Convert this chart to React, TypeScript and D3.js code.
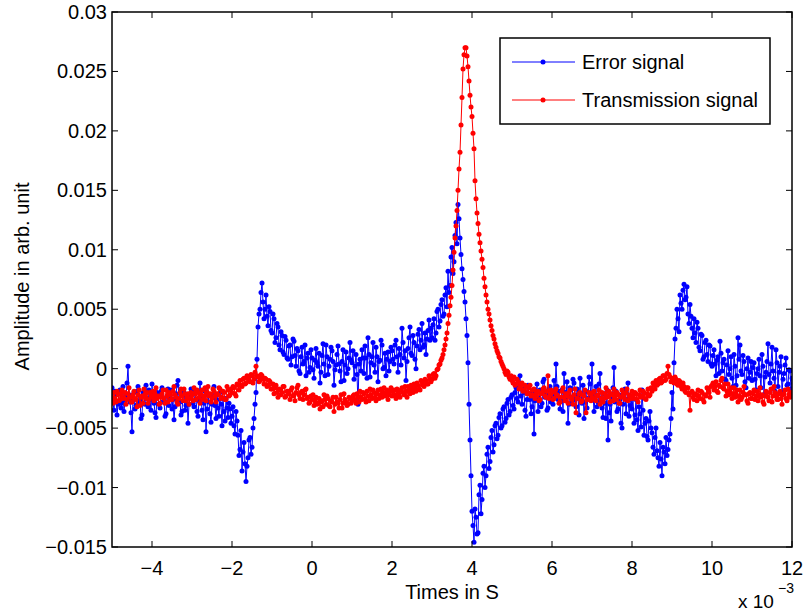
import React from "react";
import * as d3 from "d3";

// Sampling grid (axis shown in units of 1e-3 s)
const T_START = -5;
const T_STEP = 0.025;

// Error signal values (x 1e-3 arb. unit), 40 samples per 1e-3 s
const errorSignal: number[] = [
  -1.6, -2.8, -3.5, -1.9, -2.2, -3.9, -3.0, -2.1, -1.8, -3.3, -2.9, -1.5, -3.6, -2.6, -2.4, -1.2, 0.2, -2.2, -2.8, -3.7, -5.3, -2.5, -2.0, -3.4, -3.1, -1.9, -1.5, -2.9, -2.7, -4.2, -3.9, -2.0, -2.3, -3.0, -1.4, -2.5, -3.2, -1.8, -2.6, -3.5,
  -1.3, -2.4, -2.9, -3.7, -4.1, -2.0, -2.2, -3.0, -3.3, -1.9, -1.6, -2.8, -2.7, -4.0, -3.8, -2.3, -1.7, -3.1, -2.5, -1.8, -3.4, -2.6, -4.3, -3.2, -2.1, -1.4, -1.0, -2.7, -2.8, -3.9, -3.6, -2.2, -2.0, -3.5, -3.1, -2.4, -4.6, -3.0, -2.4, -1.7,
  -1.8, -2.9, -3.2, -2.1, -2.6, -3.6, -4.0, -2.7, -1.2, -2.4, -3.5, -4.3, -2.9, -1.9, -5.3, -3.4, -2.2, -2.8, -3.8, -4.5, -3.0, -2.3, -1.5, -3.1, -4.2, -2.6, -3.3, -4.0, -2.0, -3.0, -4.8, -2.5, -3.6, -4.4, -2.5, -3.3, -4.1, -2.9, -3.4, -4.6,
  -4.0, -3.2, -4.8, -5.5, -3.6, -4.4, -5.6, -7.3, -6.8, -5.2, -8.6, -7.0, -6.2, -8.0, -9.5, -8.2, -7.5, -6.0, -5.8, -7.2, -6.6, -5.0, -4.2, -3.0, -2.0, 0.8, 3.5, 4.6, 5.0, 6.4, 7.2, 5.6, 4.2, 5.0, 6.2, 4.4, 3.6, 5.2, 4.8, 3.2,
  3.0, 4.6, 4.2, 2.2, 2.6, 3.8, 3.5, 2.0, 1.6, 3.1, 2.8, 1.4, 1.2, 2.7, 2.4, 0.9, 0.8, 1.9, 2.0, 0.3, 1.0, 2.5, 2.3, 1.1, 0.2, 1.7, 1.5, -0.2, -0.4, 1.0, 1.8, 0.4, 0.6, 2.0, -0.6, 0.9, 1.3, -0.3, 0.1, 1.6,
  0.9, -0.1, -0.8, 0.7, 1.7, 0.5, 0.2, 1.3, -1.2, -0.3, 1.1, 2.1, 0.4, -0.6, 2.0, 1.0, -0.5, 0.2, 0.8, 1.8, 1.5, 0.6, -1.4, -0.1, 0.3, 1.2, 1.9, 0.4, -0.2, -1.1, 0.6, 1.6, -1.0, 0.3, 1.4, -0.4, 0.0, 0.9, 2.2, 0.7,
  0.5, 1.5, -0.9, 0.2, 1.2, -0.5, -3.0, 0.4, 0.8, -0.2, 1.6, 0.9, -0.4, 1.9, 0.9, -0.8, 2.6, 1.2, -0.7, 0.5, 1.0, 2.2, 0.3, -0.3, 1.8, 1.0, -1.1, 0.6, 0.7, 2.4, 2.0, 0.0, 0.1, 1.3, -0.6, 0.8, 1.4, -0.2, 0.6, 1.8,
  1.5, 0.8, 0.4, 2.0, 2.4, 1.0, -0.3, 1.7, 1.2, 0.3, 3.4, 2.2, 0.9, 1.5, -1.0, 0.6, 1.7, 2.6, 3.5, 1.3, 1.1, 2.8, 2.2, 0.8, 0.0, 1.9, 2.9, 3.3, 1.6, 2.4, 3.8, 1.8, 2.0, 3.0, 1.2, 2.5, 3.2, 4.1, 2.4, 3.4,
  2.6, 3.7, 4.2, 2.4, 3.0, 4.8, 5.0, 3.5, 4.0, 5.4, 5.8, 4.4, 4.6, 6.2, 6.8, 5.2, 8.2, 6.4, 7.0, 9.4, 10.2, 8.0, 9.0, 11.2, 12.3, 10.5, 13.8, 12.6, 11.0, 9.6, 8.4, 7.5, 6.5, 5.6, 4.2, 2.8, 0.5, -3.0, -6.0, -9.0,
  -12.0, -13.2, -14.6, -11.8, -12.5, -13.9, -13.8, -10.6, -9.8, -12.2, -11.0, -8.8, -8.2, -10.0, -9.0, -7.2, -6.6, -8.4, -7.8, -5.8, -5.2, -7.0, -6.4, -4.8, -4.6, -5.9, -5.6, -4.1, -3.8, -5.0, -4.8, -3.4, -3.2, -4.5, -4.2, -2.9, -2.6, -3.9, -3.6, -2.4,
  -2.2, -3.1, -3.4, -2.0, -1.6, -2.5, -2.8, -1.2, -0.6, -2.3, -3.0, -1.7, -2.0, -3.5, -4.0, -2.6, -1.4, -2.1, -2.6, -3.8, -3.2, -1.9, -5.5, -2.7, -2.4, -1.3, -3.6, -2.5, -1.8, -3.2, -2.9, -1.1, -0.9, -2.4, -2.2, -3.5, -3.3, -1.7, -1.5, -2.8,
  -2.0, -3.0, -1.0, -2.2, 0.4, -1.5, -2.6, -1.9, -3.4, -2.7, -1.8, -3.6, -0.4, -2.0, -2.4, -1.1, -4.6, -3.0, -1.6, -2.4, -2.8, -0.9, -1.2, -2.6, -3.2, -1.7, -2.2, -3.9, -0.8, -2.1, -2.9, -1.4, -4.2, -2.8, -1.9, -3.3, -2.5, -0.7, -1.3, -2.3,
  0.4, -2.0, -3.6, -2.4, -1.5, -3.2, -2.8, -1.3, -0.4, -2.5, -3.3, -4.1, -2.1, -2.9, -4.2, -1.8, -6.0, -3.7, -3.0, -4.4, -2.5, -1.6, 0.1, -2.8, -1.9, -3.6, -3.4, -2.2, -2.6, -4.6, -5.0, -3.0, -2.2, -1.7, -3.8, -2.6, -1.2, -4.0, -3.1, -2.3,
  -3.4, -2.5, -4.6, -3.9, -2.6, -4.3, -5.2, -3.2, -3.8, -4.9, -1.8, -3.5, -5.6, -4.6, -4.2, -5.7, -6.0, -4.4, -3.6, -5.0, -5.4, -6.6, -7.2, -5.8, -5.0, -6.9, -7.5, -8.2, -6.2, -7.6, -9.0, -6.6, -7.0, -8.0, -5.8, -7.3, -6.8, -6.0, -5.5, -4.2,
  -2.0, -3.4, 0.5, 2.5, 3.4, 5.0, 4.2, 3.1, 6.2, 5.5, 5.0, 6.6, 7.1, 5.8, 6.0, 6.9, 4.6, 3.8, 5.4, 4.4, 3.4, 2.6, 4.2, 3.0, 2.2, 3.9, 3.4, 1.8, 1.5, 2.9, 2.8, 0.8, 1.0, 2.2, 2.4, 1.2, 0.6, 2.0, 1.9, 0.4,
  0.2, 1.1, 1.6, 0.4, -0.6, 0.7, 1.0, -0.4, 2.3, 1.3, -0.2, 0.5, 0.8, -0.9, -1.0, 0.3, 1.5, -0.5, 0.0, 1.0, -0.8, -1.5, 1.2, 0.2, -1.4, -0.6, 2.6, 0.8, 2.0, -0.2, -0.5, 1.1, 0.6, -1.1, -1.6, 0.0, 0.9, -0.8, -0.3, 0.6,
  -1.0, 0.1, 0.5, -0.9, -1.8, -0.4, 0.0, 0.8, -0.6, -1.6, 1.2, 0.2, -2.2, -0.7, -0.3, 0.6, 2.1, -0.5, -1.2, 0.4, 1.8, -0.2, -0.8, -1.9, 1.6, 0.5, -1.5, -0.3, 0.2, 1.0, -2.0, -0.9, -0.4, 0.3, 0.9, -1.4, -1.3, -0.1, -0.2, -1.7,
  -0.8,
];

// Transmission signal values (x 1e-3 arb. unit), 40 samples per 1e-3 s
const transmissionSignal: number[] = [
  -2.4, -2.9, -2.0, -2.5, -2.8, -1.9, -2.2, -2.7, -2.6, -2.1, -1.8, -2.4, -2.5, -2.0, -3.0, -2.6, -2.1, -1.6, -2.4, -2.8, -2.8, -2.2, -1.9, -2.5, -2.6, -3.2, -2.2, -1.8, -3.1, -2.4, -2.3, -2.9, -1.7, -2.2, -2.5, -2.0, -2.9, -2.6, -2.0, -2.3,
  -2.4, -1.9, -2.7, -2.2, -1.6, -2.5, -2.3, -3.0, -2.9, -2.4, -2.1, -1.8, -2.5, -2.9, -1.8, -2.3, -2.8, -2.0, -2.2, -2.6, -2.6, -1.9, -1.5, -2.2, -2.4, -2.8, -3.0, -2.5, -2.0, -1.7, -2.3, -2.7, -1.7, -2.1, -2.7, -2.4, -2.1, -3.0, -2.5, -2.0,
  -2.2, -2.7, -1.6, -2.1, -2.6, -1.8, -2.0, -2.4, -2.9, -2.2, -1.8, -2.6, -2.3, -1.6, -2.7, -2.0, -1.5, -2.3, -2.1, -2.8, -2.5, -1.7, -1.9, -2.3, -2.8, -2.1, -2.2, -1.6, -1.7, -2.5, -2.4, -1.9, -2.0, -2.6, -2.6, -1.5, -1.8, -2.3, -2.2, -1.7,
  -2.0, -1.5, -1.6, -2.1, -2.3, -1.3, -1.4, -1.8, -1.0, -1.4, -1.5, -0.9, -0.8, -1.3, -1.2, -0.6, -0.7, -1.0, -1.1, -0.5, -0.6, -1.2, -0.9, -0.3, 0.2, -0.6, -0.7, -1.1, -1.0, -0.5, -0.6, -0.9, -1.3, -0.8, -0.9, -1.5, -1.4, -1.0, -1.1, -1.7,
  -1.7, -1.3, -2.1, -1.6, -1.4, -2.0, -2.4, -1.7, -1.8, -2.2, -2.0, -1.5, -1.5, -2.4, -2.3, -1.9, -1.9, -2.1, -2.6, -1.8, -1.6, -2.3, -2.2, -2.7, -2.0, -1.6, -1.4, -2.2, -2.5, -2.0, -1.9, -2.6, -2.2, -1.8, -1.7, -2.5, -2.4, -2.9, -2.8, -2.3,
  -2.6, -2.2, -3.1, -2.7, -2.4, -3.0, -2.9, -2.5, -3.4, -2.8, -2.7, -3.2, -2.2, -2.6, -3.0, -2.3, -2.5, -3.1, -3.2, -2.7, -2.8, -2.4, -3.6, -3.0, -2.4, -2.8, -2.9, -3.3, -2.6, -2.2, -3.3, -2.9, -2.1, -2.6, -2.8, -3.1, -3.0, -2.4, -2.5, -2.9,
  -2.7, -2.3, -2.2, -2.6, -2.9, -2.1, -2.4, -2.8, -1.9, -2.4, -2.6, -2.0, -2.1, -2.5, -2.8, -1.9, -2.3, -2.7, -1.7, -2.2, -2.5, -1.8, -2.0, -2.4, -2.7, -2.1, -1.8, -2.5, -2.2, -1.7, -2.4, -2.0, -1.6, -2.3, -2.1, -1.8, -2.6, -2.2, -1.9, -1.6,
  -2.3, -1.9, -1.8, -2.2, -2.5, -1.7, -2.0, -2.3, -2.4, -1.8, -1.6, -2.0, -2.2, -1.5, -1.9, -2.4, -1.5, -1.8, -2.1, -1.4, -1.7, -2.0, -1.3, -1.6, -1.9, -1.2, -1.4, -1.7, -1.8, -1.0, -1.1, -1.4, -1.5, -0.9, -1.0, -1.3, -1.3, -0.6, -0.8, -1.1,
  -0.9, -0.5, -0.4, -0.8, -0.6, -0.1, 0.0, 0.3, 0.4, 0.7, 0.9, 1.2, 1.6, 2.0, 2.5, 3.0, 3.8, 4.5, 5.3, 6.0, 7.0, 8.3, 9.8, 11.0, 12.0, 13.3, 15.0, 16.8, 18.2, 20.5, 22.8, 25.2, 26.4, 27.0, 27.0, 26.3, 25.4, 24.2, 23.0, 22.0,
  21.2, 19.8, 18.5, 15.8, 14.3, 13.1, 12.2, 11.3, 10.6, 9.9, 9.2, 8.5, 7.6, 6.9, 6.2, 5.6, 5.0, 4.6, 4.1, 3.6, 3.2, 2.8, 2.5, 2.1, 1.8, 1.5, 1.3, 1.0, 0.9, 0.6, 0.4, 0.2, 0.0, -0.3, -0.5, -0.2, -0.3, -0.7, -0.9, -0.6,
  -1.0, -1.2, -0.7, -1.4, -1.3, -0.9, -1.1, -1.7, -1.6, -1.3, -1.2, -1.9, -1.8, -1.4, -1.5, -2.1, -2.0, -1.6, -1.4, -2.3, -2.2, -1.8, -1.7, -2.5, -2.3, -2.0, -1.9, -2.7, -2.6, -2.1, -2.0, -1.7, -1.6, -2.3, -2.4, -1.9, -0.6, -2.5, -2.2, -1.8,
  -2.0, -2.6, -2.5, -1.9, -1.7, -2.2, -2.3, -2.9, -2.8, -2.4, -1.9, -1.6, -2.4, -2.7, -2.1, -2.3, -2.9, -2.0, -1.8, -2.4, -2.6, -3.0, -2.2, -1.7, -3.7, -2.5, -2.5, -2.1, -2.0, -2.8, -2.7, -2.2, -2.3, -1.8, -3.7, -2.6, -2.6, -2.0, -2.1, -2.7,
  -2.4, -2.0, -1.9, -2.6, -2.7, -2.3, -2.2, -1.8, -3.0, -2.5, -2.0, -2.8, -2.5, -2.1, -1.6, -2.4, -2.3, -1.9, -2.8, -2.2, -2.1, -2.7, -1.7, -2.3, -2.6, -2.0, -2.2, -2.9, -2.9, -2.4, -1.8, -2.1, -2.4, -2.6, -2.0, -1.7, -2.7, -2.2, -2.3, -2.5,
  -1.9, -2.3, -2.5, -2.0, -2.1, -2.6, -2.8, -2.2, -1.8, -2.4, -2.3, -1.9, -2.0, -2.5, -2.6, -2.1, -1.7, -2.3, -2.2, -1.6, -1.9, -1.2, -1.4, -1.7, -1.0, -1.4, -1.3, -0.9, -0.8, -1.2, -1.1, -0.6, -0.6, -1.0, -0.9, -0.4, 0.2, -0.5, -0.7, -1.1,
  -0.8, -1.0, -1.2, -0.7, -0.9, -1.3, -1.4, -1.0, -1.1, -1.5, -1.7, -1.2, -1.5, -1.9, -2.0, -1.6, -1.6, -2.2, -3.5, -2.0, -1.9, -2.4, -2.6, -2.1, -2.2, -2.7, -1.8, -2.3, -2.5, -1.9, -2.0, -2.6, -2.8, -2.2, -2.3, -1.6, -1.7, -2.0, -2.4, -1.5,
  -1.4, -1.2, -1.8, -1.5, -1.1, -1.9, -2.0, -1.4, -1.5, -1.0, -0.8, -1.6, -1.7, -1.3, -2.3, -1.9, -1.3, -2.2, -1.9, -1.6, -2.5, -2.1, -1.6, -2.4, -2.1, -1.8, -2.8, -2.3, -1.8, -2.6, -2.4, -2.0, -1.5, -2.2, -2.2, -2.7, -2.9, -2.1, -2.0, -2.5,
  -2.5, -2.1, -1.8, -2.6, -2.3, -1.9, -2.7, -2.2, -1.6, -2.4, -2.2, -2.8, -3.0, -2.3, -1.9, -2.0, -2.4, -2.7, -2.0, -1.7, -2.8, -2.3, -1.5, -2.0, -2.3, -2.6, -2.6, -2.1, -1.9, -2.5, -3.0, -2.2, -2.1, -1.8, -2.5, -2.7, -1.7, -2.2, -2.4, -2.0,
  -2.2,
];

const xTicks = [-4, -2, 0, 2, 4, 6, 8, 10, 12];
const yTicks = [-0.015, -0.01, -0.005, 0, 0.005, 0.01, 0.015, 0.02, 0.025, 0.03];
const yTickLabels = ["\u22120.015", "\u22120.01", "\u22120.005", "0", "0.005", "0.01", "0.015", "0.02", "0.025", "0.03"];
const xTickLabels = ["\u22124", "\u22122", "0", "2", "4", "6", "8", "10", "12"];

const seriesNames = ["Error signal", "Transmission signal"];
const seriesColors = ["#0000ff", "#ff0000"];

const W = 803;
const H = 614;
const M = { left: 112, right: 792, top: 12, bottom: 547 };
const FONT = "'Liberation Sans', Arial, Helvetica, sans-serif";

export default function App() {
  const x = d3.scaleLinear().domain([-5, 12]).range([M.left, M.right]);
  const y = d3.scaleLinear().domain([-0.015, 0.03]).range([M.bottom, M.top]);

  const toPts = (vals: number[]) =>
    vals.map((v, i) => ({ t: T_START + i * T_STEP, v: v * 1e-3 }));
  const series = [toPts(errorSignal), toPts(transmissionSignal)];
  const line = d3
    .line<{ t: number; v: number }>()
    .x((d) => x(d.t))
    .y((d) => y(d.v));

  const tickLen = 6;

  return (
    <svg
      width={W}
      height={H}
      style={{ position: "absolute", left: 0, top: 0, background: "#fff" }}
      fontFamily={FONT}
    >
      <rect x={0} y={0} width={W} height={H} fill="#fff" />
      <defs>
        <clipPath id="plotclip">
          <rect x={M.left} y={M.top} width={M.right - M.left} height={M.bottom - M.top} />
        </clipPath>
      </defs>

      <g clipPath="url(#plotclip)">
        {series.map((s, k) => (
          <g key={k}>
            <path d={line(s) || ""} fill="none" stroke={seriesColors[k]} strokeWidth={1} />
            {s.map((d, i) => (
              <circle key={i} cx={x(d.t)} cy={y(d.v)} r={2.5} fill={seriesColors[k]} />
            ))}
          </g>
        ))}
      </g>

      {/* ticks */}
      {xTicks.map((t) => (
        <g key={"xt" + t}>
          <line x1={x(t)} x2={x(t)} y1={M.bottom} y2={M.bottom - tickLen} stroke="#000" strokeWidth={1} />
          <line x1={x(t)} x2={x(t)} y1={M.top} y2={M.top + tickLen} stroke="#000" strokeWidth={1} />
        </g>
      ))}
      {yTicks.map((t) => (
        <g key={"yt" + t}>
          <line x1={M.left} x2={M.left + tickLen} y1={y(t)} y2={y(t)} stroke="#000" strokeWidth={1} />
          <line x1={M.right} x2={M.right - tickLen} y1={y(t)} y2={y(t)} stroke="#000" strokeWidth={1} />
        </g>
      ))}

      {/* frame */}
      <rect
        x={M.left}
        y={M.top}
        width={M.right - M.left}
        height={M.bottom - M.top}
        fill="none"
        stroke="#000"
        strokeWidth={1.5}
      />

      {/* tick labels */}
      {xTicks.map((t, i) => (
        <text key={"xl" + t} x={x(t)} y={575} textAnchor="middle" fontSize={20} fill="#000">
          {xTickLabels[i]}
        </text>
      ))}
      {yTicks.map((t, i) => (
        <text key={"yl" + t} x={107} y={y(t) + 7} textAnchor="end" fontSize={20} fill="#000">
          {yTickLabels[i]}
        </text>
      ))}

      {/* axis labels */}
      <text x={(M.left + M.right) / 2} y={599} textAnchor="middle" fontSize={20} fill="#000">
        Times in S
      </text>
      <text
        transform={`translate(29, ${(M.top + M.bottom) / 2 - 3}) rotate(-90)`}
        textAnchor="middle"
        fontSize={20}
        fill="#000"
      >
        Amplitude in arb. unit
      </text>
      <text x={738} y={608} fontSize={19} fill="#000">
        x 10
      </text>
      <text x={778} y={593} fontSize={14} fill="#000">
        {"\u22123"}
      </text>

      {/* legend */}
      <rect x={500} y={38} width={270} height={86} fill="#fff" stroke="#000" strokeWidth={1.5} />
      {seriesNames.map((name, k) => {
        const ly = k === 0 ? 62 : 100;
        return (
          <g key={name}>
            <line x1={512} x2={575} y1={ly} y2={ly} stroke={seriesColors[k]} strokeWidth={1} />
            <circle cx={543} cy={ly} r={2.5} fill={seriesColors[k]} />
            <text x={582} y={ly + 7} fontSize={20} fill="#000">
              {name}
            </text>
          </g>
        );
      })}
    </svg>
  );
}
